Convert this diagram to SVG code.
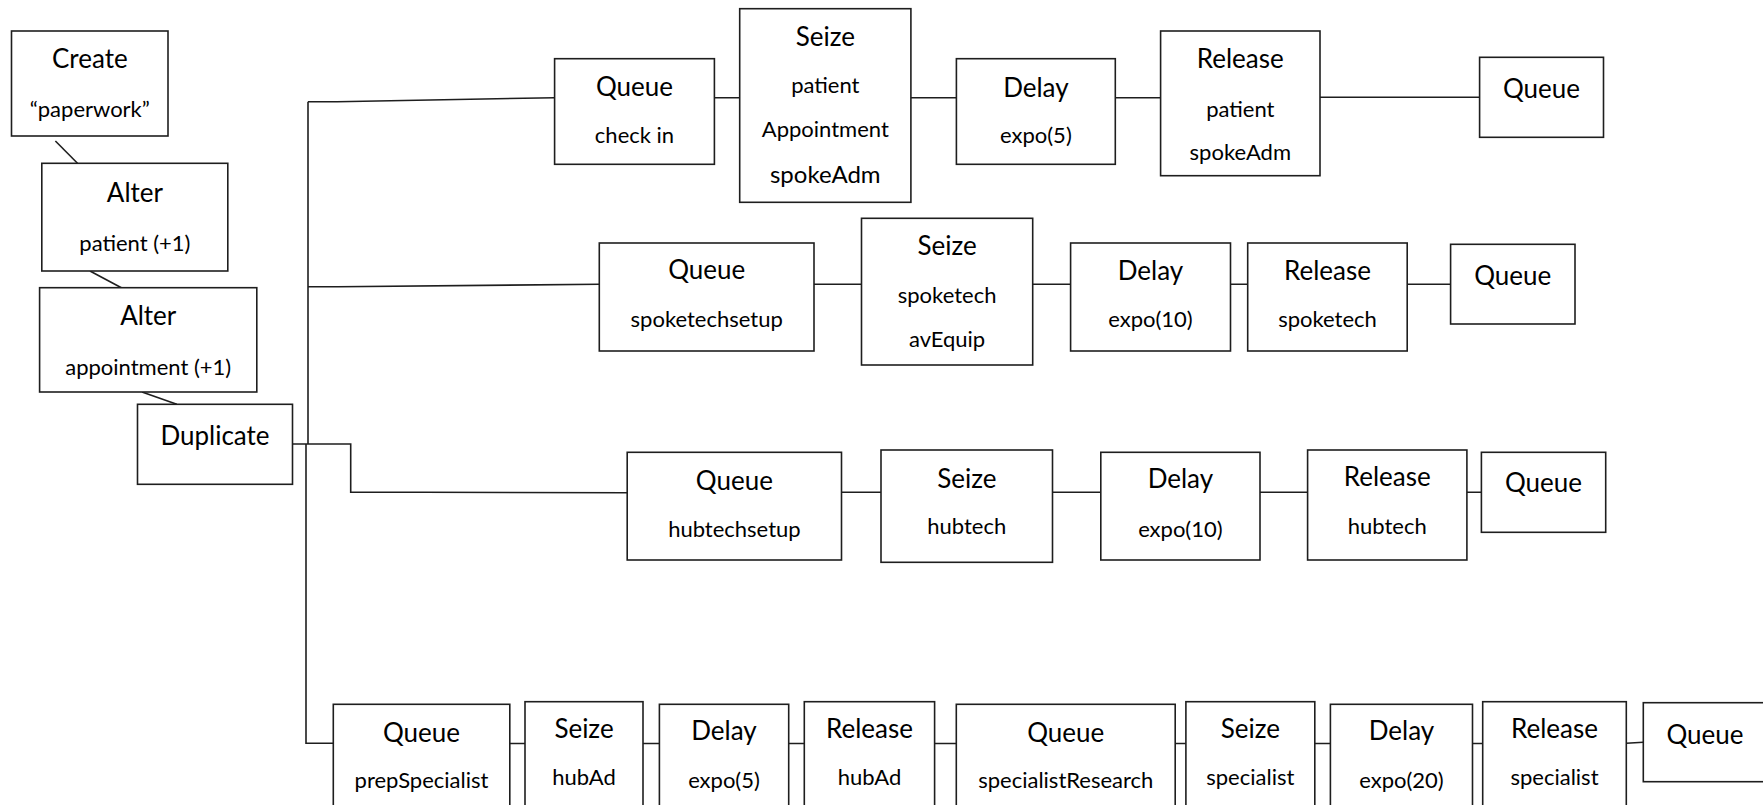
<svg xmlns="http://www.w3.org/2000/svg" width="1763" height="805" viewBox="0 0 1763 805">
  <style>
    .box { fill: #ffffff; stroke: #1e1e1e; stroke-width: 1.6; }
    .ln { fill: none; stroke: #1e1e1e; stroke-width: 1.6; }
    text { font-family: Lato, "Liberation Sans", sans-serif; fill: #000000; text-anchor: middle; }
    .t { font-size: 26px; }
    .s { font-size: 22px; }
    .m { font-size: 24px; }
  </style>
  <rect width="1763" height="805" fill="#ffffff"/>

  <!-- connectors -->
  <g id="connectors">
    <path class="ln" d="M55.4 141 L77.5 163.3"/>
    <path class="ln" d="M90 271 L121.4 287.7"/>
    <path class="ln" d="M142 392 L176.8 404.3"/>
    <!-- duplicate trunk and branches -->
    <path class="ln" d="M308 101.7 V444"/>
    <path class="ln" d="M306 444 V743.3 H333.3"/>
    <path class="ln" d="M308 101.7 H337 L554.6 97.7"/>
    <path class="ln" d="M308 286.7 H338 L599.3 284.3"/>
    <path class="ln" d="M292.5 444 H350.7 V492.3 H423 L627.2 492.8"/>
    <!-- row 1 -->
    <path class="ln" d="M714.4 97.7 H739.7 M910.9 97.7 H956.4 M1115.3 97.7 H1160.6 M1320 97.3 H1479.6"/>
    <!-- row 2 -->
    <path class="ln" d="M814 284.3 H861.5 M1032.7 284.3 H1070.6 M1230.5 284.3 H1247.7 M1407.2 284.3 H1450.6"/>
    <!-- row 3 -->
    <path class="ln" d="M841.5 492.3 H881 M1052.5 492.3 H1100.8 M1260 492.3 H1307.6 M1466.9 492.3 H1481.4"/>
    <!-- row 4 -->
    <path class="ln" d="M509.8 743.5 H525 M643 743.5 H659.4 M788.7 743.5 H804.3 M934.6 743.5 H956.3 M1175.2 743.5 H1185.9 M1314.8 743.5 H1330.4 M1472.5 743.5 H1482.7 M1626.3 743.3 L1643.3 742.3"/>
  </g>

  <!-- entry chain -->
  <g id="create">
    <rect class="box" x="11.5" y="31" width="156.5" height="105"/>
    <text class="t" x="89.8" y="68.3">Create</text>
    <text class="s" x="89.8" y="116.7">“paperwork”</text>
  </g>
  <g id="alter-patient">
    <rect class="box" x="41.8" y="163.3" width="186" height="107.7"/>
    <text class="t" x="134.9" y="201.7">Alter</text>
    <text class="s" x="134.9" y="250.7">patient (+1)</text>
  </g>
  <g id="alter-appointment">
    <rect class="box" x="39.6" y="287.7" width="217.2" height="104.3"/>
    <text class="t" x="148.2" y="325">Alter</text>
    <text class="s" x="148.2" y="375">appointment (+1)</text>
  </g>
  <g id="duplicate">
    <rect class="box" x="137.5" y="404.3" width="155" height="80"/>
    <text class="t" x="215" y="445">Duplicate</text>
  </g>

  <!-- row 1: check in -->
  <g id="queue-checkin">
    <rect class="box" x="554.6" y="58.7" width="159.8" height="105.6"/>
    <text class="t" x="634.5" y="95.7">Queue</text>
    <text class="s" x="634.5" y="142.7">check in</text>
  </g>
  <g id="seize-spokeadm">
    <rect class="box" x="739.7" y="8.7" width="171.2" height="193.6"/>
    <text class="t" x="825.3" y="45.7">Seize</text>
    <text class="s" x="825.3" y="93.3">patient</text>
    <text class="s" x="825.3" y="136.7">Appointment</text>
    <text class="m" x="825.3" y="183.3">spokeAdm</text>
  </g>
  <g id="delay-1">
    <rect class="box" x="956.4" y="58.7" width="158.9" height="105.6"/>
    <text class="t" x="1035.9" y="96.7">Delay</text>
    <text class="s" x="1035.9" y="142.7">expo(5)</text>
  </g>
  <g id="release-spokeadm">
    <rect class="box" x="1160.6" y="31" width="159.4" height="144.7"/>
    <text class="t" x="1240.3" y="68.3">Release</text>
    <text class="s" x="1240.3" y="116.7">patient</text>
    <text class="s" x="1240.3" y="160">spokeAdm</text>
  </g>
  <g id="queue-end-1">
    <rect class="box" x="1479.6" y="57.3" width="123.9" height="80"/>
    <text class="t" x="1541.5" y="98.3">Queue</text>
  </g>

  <!-- row 2: spoke tech setup -->
  <g id="queue-spoketechsetup">
    <rect class="box" x="599.3" y="243" width="214.7" height="108"/>
    <text class="t" x="706.7" y="279.3">Queue</text>
    <text class="s" x="706.7" y="326.7">spoketechsetup</text>
  </g>
  <g id="seize-spoketech">
    <rect class="box" x="861.5" y="218.3" width="171.2" height="146.7"/>
    <text class="t" x="947.1" y="255">Seize</text>
    <text class="s" x="947.1" y="303.3">spoketech</text>
    <text class="s" x="947.1" y="346.7">avEquip</text>
  </g>
  <g id="delay-2">
    <rect class="box" x="1070.6" y="243" width="159.9" height="108"/>
    <text class="t" x="1150.5" y="280">Delay</text>
    <text class="s" x="1150.5" y="326.7">expo(10)</text>
  </g>
  <g id="release-spoketech">
    <rect class="box" x="1247.7" y="243" width="159.5" height="108"/>
    <text class="t" x="1327.5" y="280">Release</text>
    <text class="s" x="1327.5" y="326.7">spoketech</text>
  </g>
  <g id="queue-end-2">
    <rect class="box" x="1450.6" y="244.3" width="124.4" height="79.7"/>
    <text class="t" x="1512.8" y="285">Queue</text>
  </g>

  <!-- row 3: hub tech setup -->
  <g id="queue-hubtechsetup">
    <rect class="box" x="627.2" y="452.3" width="214.3" height="107.7"/>
    <text class="t" x="734.4" y="490">Queue</text>
    <text class="s" x="734.4" y="536.7">hubtechsetup</text>
  </g>
  <g id="seize-hubtech">
    <rect class="box" x="881" y="450" width="171.5" height="112.3"/>
    <text class="t" x="966.8" y="488.3">Seize</text>
    <text class="s" x="966.8" y="534">hubtech</text>
  </g>
  <g id="delay-3">
    <rect class="box" x="1100.8" y="452.3" width="159.2" height="107.7"/>
    <text class="t" x="1180.4" y="488.3">Delay</text>
    <text class="s" x="1180.4" y="536.7">expo(10)</text>
  </g>
  <g id="release-hubtech">
    <rect class="box" x="1307.6" y="450" width="159.3" height="110"/>
    <text class="t" x="1387.3" y="486">Release</text>
    <text class="s" x="1387.3" y="534">hubtech</text>
  </g>
  <g id="queue-end-3">
    <rect class="box" x="1481.4" y="452.3" width="124.3" height="80"/>
    <text class="t" x="1543.5" y="491.7">Queue</text>
  </g>

  <!-- row 4: specialist path -->
  <g id="queue-prepspecialist">
    <rect class="box" x="333.3" y="704.3" width="176.5" height="112"/>
    <text class="t" x="421.5" y="741.7">Queue</text>
    <text class="s" x="421.5" y="788.3">prepSpecialist</text>
  </g>
  <g id="seize-hubad">
    <rect class="box" x="525" y="701.7" width="118" height="115"/>
    <text class="t" x="584" y="738.3">Seize</text>
    <text class="s" x="584" y="785">hubAd</text>
  </g>
  <g id="delay-4">
    <rect class="box" x="659.4" y="704.3" width="129.3" height="112"/>
    <text class="t" x="724" y="740">Delay</text>
    <text class="s" x="724" y="788.3">expo(5)</text>
  </g>
  <g id="release-hubad">
    <rect class="box" x="804.3" y="701.7" width="130.3" height="115"/>
    <text class="t" x="869.5" y="738.3">Release</text>
    <text class="s" x="869.5" y="785">hubAd</text>
  </g>
  <g id="queue-specialistresearch">
    <rect class="box" x="956.3" y="704.3" width="218.9" height="112"/>
    <text class="t" x="1065.8" y="741.7">Queue</text>
    <text class="s" x="1065.8" y="788.3">specialistResearch</text>
  </g>
  <g id="seize-specialist">
    <rect class="box" x="1185.9" y="701.7" width="128.9" height="115"/>
    <text class="t" x="1250.3" y="738.3">Seize</text>
    <text class="s" x="1250.3" y="785">specialist</text>
  </g>
  <g id="delay-5">
    <rect class="box" x="1330.4" y="704.3" width="142.1" height="112"/>
    <text class="t" x="1401.5" y="740">Delay</text>
    <text class="s" x="1401.5" y="788.3">expo(20)</text>
  </g>
  <g id="release-specialist">
    <rect class="box" x="1482.7" y="701.7" width="143.6" height="115"/>
    <text class="t" x="1554.5" y="738.3">Release</text>
    <text class="s" x="1554.5" y="785">specialist</text>
  </g>
  <g id="queue-end-4">
    <rect class="box" x="1643.3" y="702.7" width="125" height="79"/>
    <text class="t" x="1705" y="744">Queue</text>
  </g>
</svg>
